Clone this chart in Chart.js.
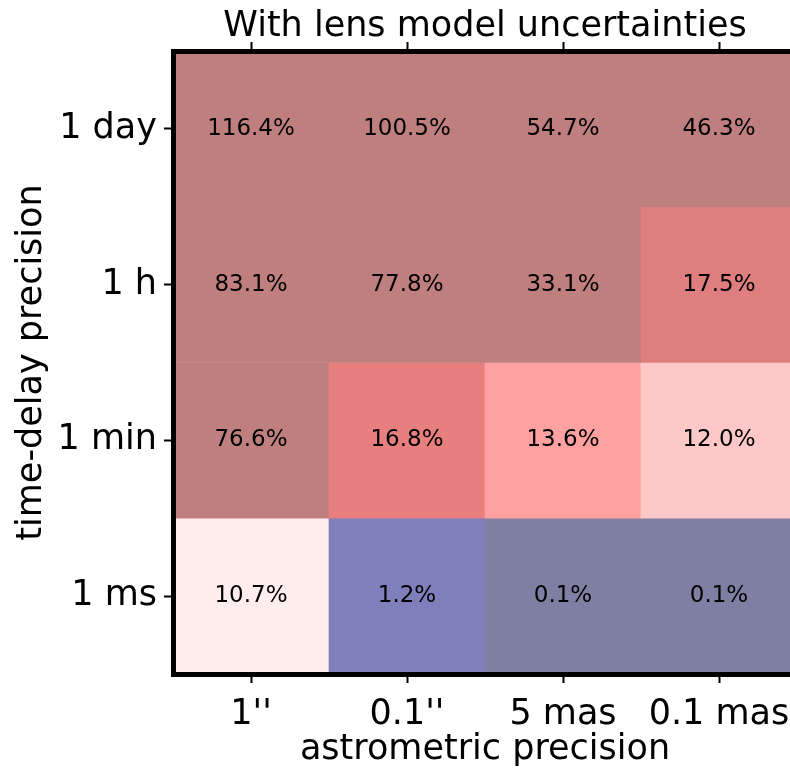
<!DOCTYPE html>
<html>
<head>
<meta charset="utf-8">
<script src="https://cdn.jsdelivr.net/npm/chart.js@4.4.0/dist/chart.umd.min.js"></script>
<style>
  html, body { margin: 0; padding: 0; background: #fff; overflow: hidden; }
  #wrap { width: 790px; height: 769px; overflow: hidden; }
</style>
</head>
<body>
<div id="wrap"><canvas id="grafico" width="830" height="769"></canvas></div>
<script>
// ===== DADOS =====
const colunas = ["1''", "0.1''", "5 mas", "0.1 mas"];
const linhas = ['1 day', '1 h', '1 min', '1 ms']; // de cima para baixo

const val1day = [116.4, 100.5, 54.7, 46.3];
const val1h   = [83.1, 77.8, 33.1, 17.5];
const val1min = [76.6, 16.8, 13.6, 12.0];
const val1ms  = [10.7, 1.2, 0.1, 0.1];
const valores = [val1day, val1h, val1min, val1ms];

// cores de cada célula (mesma ordem)
const cores = [
    ['#bf7f7f', '#bf7f7f', '#bf7f7f', '#bf7f7f'],
    ['#bf7f7f', '#bf7f7f', '#bf7f7f', '#de7e7e'],
    ['#bf7f7f', '#e77f7f', '#ffa1a1', '#ffc8c8'],
    ['#ffecec', '#7f7fbb', '#7f7fa3', '#7f7fa3']
];

const fonte = 'DejaVu Sans';
const nLinhas = linhas.length;

// cada linha vira um dataset de barras flutuantes (linha 0 fica no topo)
const datasets = linhas.map((nome, i) => {
    const r = nLinhas - 1 - i;
    return {
        label: nome,
        data: colunas.map(() => [r - 0.5, r + 0.5]),
        valores: valores[i],
        backgroundColor: cores[i],
        borderWidth: 0,
        barPercentage: 1,
        categoryPercentage: 1,
        grouped: false
    };
});

// escreve o valor no meio de cada célula
const textoCelulas = {
    id: 'textoCelulas',
    afterDatasetsDraw(chart) {
        const ctx = chart.ctx;
        ctx.save();
        ctx.font = '23px "' + fonte + '"';
        ctx.fillStyle = '#000';
        ctx.textAlign = 'center';
        ctx.textBaseline = 'middle';
        chart.data.datasets.forEach((ds, i) => {
            chart.getDatasetMeta(i).data.forEach((bar, j) => {
                const p = bar.getCenterPoint();
                ctx.fillText(ds.valores[j].toFixed(1) + '%', p.x, p.y);
            });
        });
        ctx.restore();
    }
};

const ticksLinhas = scale => {
    scale.ticks = linhas.map((_, i) => ({ value: i }));
};

const gradeComum = {
    display: true,
    drawOnChartArea: false,
    offset: false,
    color: '#000',
    tickLength: 9,
    tickWidth: 2,
    z: 1
};
// z: 1 para a moldura ficar por cima das células
const bordaComum = { display: true, color: '#000', width: 5, z: 1 };

new Chart(document.getElementById('grafico').getContext('2d'), {
    type: 'bar',
    data: { labels: colunas, datasets: datasets },
    options: {
        responsive: false,
        animation: false,
        devicePixelRatio: 1,
        layout: { padding: 0 },
        plugins: {
            legend: { display: false },
            tooltip: { enabled: false }
        },
        scales: {
            x: {
                type: 'category',
                position: 'bottom',
                grid: gradeComum,
                border: bordaComum,
                ticks: { color: '#000', font: { family: fonte, size: 35 }, padding: 11, maxRotation: 0 },
                title: { display: true, text: 'astrometric precision', color: '#000', font: { family: fonte, size: 35 }, padding: { top: 0, bottom: -2 } },
                afterFit: s => { s.height = 95; }
            },
            xTopo: {
                type: 'category',
                position: 'top',
                grid: gradeComum,
                border: bordaComum,
                ticks: { display: false },
                title: { display: true, text: 'With lens model uncertainties', color: '#000', font: { family: fonte, size: 35 }, padding: { top: 6, bottom: 0 } },
                afterFit: s => { s.height = 51; }
            },
            y: {
                type: 'linear',
                position: 'left',
                min: -0.5,
                max: nLinhas - 0.5,
                afterBuildTicks: ticksLinhas,
                grid: gradeComum,
                border: bordaComum,
                ticks: {
                    color: '#000',
                    font: { family: fonte, size: 35 },
                    padding: 7,
                    callback: v => linhas[nLinhas - 1 - v]
                },
                title: { display: true, text: 'time-delay precision', color: '#000', font: { family: fonte, size: 35 }, padding: { top: 11, bottom: 0 } },
                afterFit: s => { s.width = 173; }
            },
            yDireita: {
                type: 'linear',
                position: 'right',
                min: -0.5,
                max: nLinhas - 0.5,
                afterBuildTicks: ticksLinhas,
                grid: gradeComum,
                border: bordaComum,
                ticks: { display: false },
                afterFit: s => { s.width = 33; }
            }
        }
    },
    plugins: [textoCelulas]
});
</script>
</body>
</html>
